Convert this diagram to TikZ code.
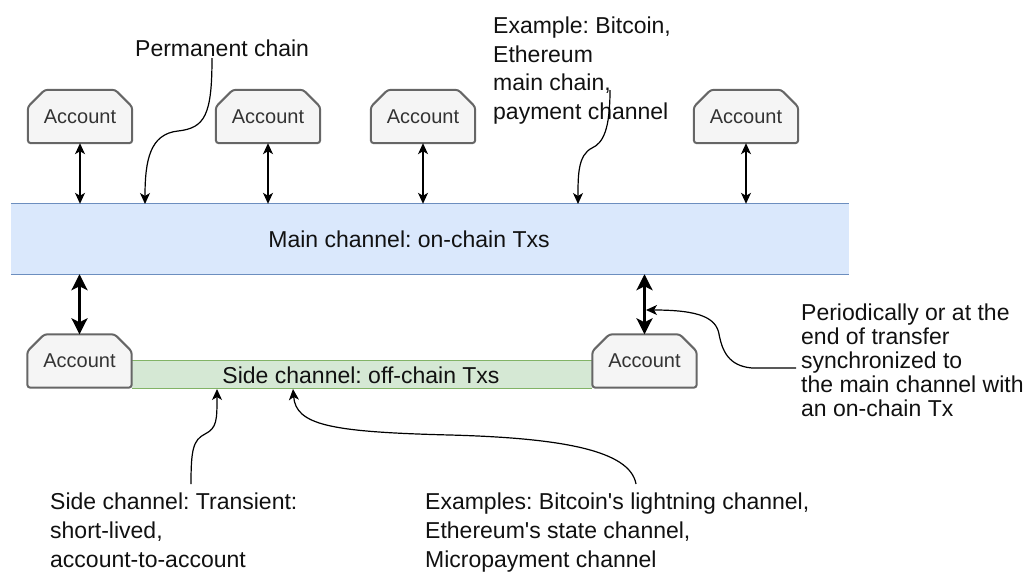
\documentclass[tikz,border=0pt]{standalone}
\usepackage{fontspec}
\setmainfont{Liberation Sans}
\frenchspacing
\usetikzlibrary{arrows.meta,backgrounds}
\definecolor{mainfill}{HTML}{DAE8FC}
\definecolor{mainline}{HTML}{6C8EBF}
\definecolor{sidefill}{HTML}{D5E8D4}
\definecolor{sideline}{HTML}{82B366}
\definecolor{acctfill}{HTML}{F5F5F5}
\definecolor{acctline}{HTML}{666666}
\definecolor{accttext}{HTML}{333333}
\definecolor{txt}{HTML}{111111}
\tikzset{
  acct/.style={minimum width=104pt, minimum height=53pt, inner sep=0pt,
    font=\fontsize{20}{24}\selectfont, text=accttext},
  acctborder/.style={draw=acctline, fill=acctfill, line width=2pt, rounded corners=3pt},
  lbl/.style={anchor=north west, inner sep=0pt, align=left, text=txt},
  chan/.style={inner sep=0pt, text=txt, font=\fontsize{23}{28}\selectfont},
  conn/.style={draw=black, line width=1.2pt, -{Stealth[length=11pt,width=10pt,inset=3pt]}},
  dbl/.style={draw=black, line width=1.2pt,
    {Stealth[length=11pt,width=10pt,inset=3pt]}-{Stealth[length=11pt,width=10pt,inset=3pt]}},
  dblthick/.style={draw=black, line width=3pt,
    {Stealth[length=16pt,width=16pt,inset=4pt]}-{Stealth[length=16pt,width=16pt,inset=4pt]}}
}
\newcommand\acctframe[1]{%
  \draw[acctborder] ([xshift=17pt]#1.north west) -- ([xshift=-17pt]#1.north east)
    -- ([yshift=-17pt]#1.north east) -- (#1.south east) -- (#1.south west)
    -- ([yshift=-17pt]#1.north west) -- cycle;}
\begin{document}
\begin{tikzpicture}[x=1pt,y=-1pt]
\useasboundingbox (0,0) rectangle (1033,573);
% accounts
\node[acct] (a1) at (80,116.5) {Account};
\node[acct] (a2) at (268,116.5) {Account};
\node[acct] (a3) at (423,116.5) {Account};
\node[acct] (a4) at (746,116.5) {Account};
\node[acct] (b1) at (79.5,361) {Account};
\node[acct] (b2) at (644.5,361) {Account};
\begin{pgfonlayer}{background}
  \node[fill=mainfill, minimum width=838pt, minimum height=70pt, inner sep=0pt] (main) at (430,239) {};
  \draw[mainline, line width=1.2pt] (main.north west) -- (main.north east)
    (main.south west) -- (main.south east);
  \node[fill=sidefill, minimum width=460pt, minimum height=27pt, inner sep=0pt] (side) at (362,374.5) {};
  \draw[sideline, line width=1.2pt] (side.north west) -- (side.north east)
    (side.south west) -- (side.south east);
  \foreach \n in {a1,a2,a3,a4,b1,b2} {\acctframe{\n}}
\end{pgfonlayer}
\node[chan] (maintext) at (409,239) {Main channel: on-chain Txs};
\node[chan] (sidetext) at (361,375) {Side channel: off-chain Txs};
% double arrows
\foreach \n in {a1,a2,a3,a4} {\draw[dbl] (\n.south) -- (\n.south |- main.north);}
\draw[dblthick] (b1.north |- main.south) -- (b1.north);
\draw[dblthick] (b2.north |- main.south) -- (b2.north);
% labels
\node[lbl, font=\fontsize{23}{28}\selectfont] (perm) at (135,40) {Permanent chain};
\node[lbl, font=\fontsize{23}{28.5}\selectfont] (ex) at (493,17)
  {Example: Bitcoin,\\Ethereum\\main chain,\\payment channel};
\node[lbl, font=\fontsize{23}{24}\selectfont] (sync) at (801,304)
  {Periodically or at the\\end of transfer\\synchronized to\\the main channel with\\an on-chain Tx};
\node[lbl, font=\fontsize{23}{29}\selectfont] (trans) at (50,493)
  {Side channel: Transient:\\short-lived,\\account-to-account};
\node[lbl, font=\fontsize{23}{29}\selectfont] (exs) at (425,493)
  {Examples: Bitcoin\textquotesingle s lightning channel,\\Ethereum\textquotesingle s state channel,\\Micropayment channel};
% connector ends
\coordinate (perm-s) at (212,58);
\coordinate (perm-e) at (145,204);
\coordinate (ex-s) at (610,90);
\coordinate (ex-e) at (578,204);
\coordinate (sync-s) at (796,368);
\coordinate (sync-e) at (646,310);
\coordinate (trans-s) at (191,484);
\coordinate (trans-e) at (217,389);
\coordinate (exs-s) at (636,484);
\coordinate (exs-e) at (293,389);
% curved connectors
\draw[conn] (perm-s) .. controls (212,115) and (205,128) .. (178,131)
  .. controls (150,134) and (145,160) .. (perm-e);
\draw[conn] (ex-s) .. controls (610,130) and (603,143) .. (592,148)
  .. controls (578,155) and (578,175) .. (ex-e);
\draw[conn] (sync-s) -- (752,368) .. controls (728,366) and (722,350) .. (719,334)
  .. controls (716,318) and (700,310) .. (sync-e);
\draw[conn] (trans-s) .. controls (191,450) and (193,440) .. (205,434)
  .. controls (217,428) and (217,420) .. (trans-e);
\draw[conn] (exs-s) .. controls (630,450) and (560,438) .. (450,435)
  .. controls (330,432) and (296,425) .. (exs-e);
\end{tikzpicture}
\end{document}
